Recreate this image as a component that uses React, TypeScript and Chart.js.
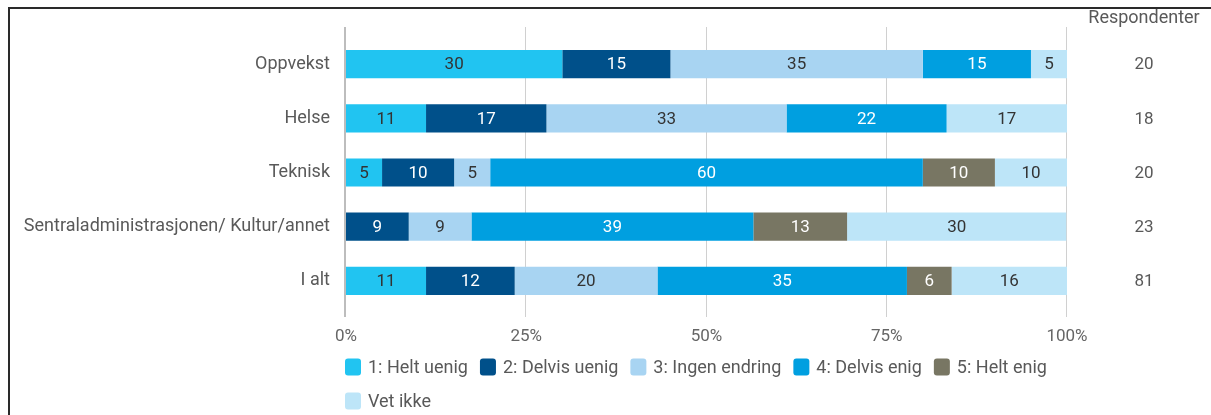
import React, { useEffect, useRef } from 'react';
import { Chart, registerables } from 'chart.js';

Chart.register(...registerables);

const categories = [
  'Oppvekst',
  'Helse',
  'Teknisk',
  'Sentraladministrasjonen/ Kultur/annet',
  'I alt',
];
const seriesNames = [
  '1: Helt uenig',
  '2: Delvis uenig',
  '3: Ingen endring',
  '4: Delvis enig',
  '5: Helt enig',
  'Vet ikke',
];
// Percent of respondents per category (labels shown rounded)
const heltUenig = [30, 11.1, 5, 0, 11.1];
const delvisUenig = [15, 16.7, 10, 8.7, 12.3];
const ingenEndring = [35, 33.3, 5, 8.7, 19.8];
const delvisEnig = [15, 22.2, 60, 39.1, 34.6];
const heltEnig = [0, 0, 10, 13.0, 6.2];
const vetIkke = [5, 16.7, 10, 30.4, 16.0];
const respondenter = [20, 18, 20, 23, 81];
const respondenterTitle = 'Respondenter';
const xTicks = [0, 25, 50, 75, 100];

const colors = ['#21C4F1', '#00508A', '#A8D4F2', '#009FE0', '#787663', '#BDE5F8'];
const labelColors = ['#333333', '#ffffff', '#333333', '#ffffff', '#ffffff', '#333333'];
const FONT = 'Roboto';
const TEXT_SIZE = 18;
const NUM_SIZE = 17;
const TEXT_GRAY = '#595959';

const gridPlugin = {
  id: 'extGrid',
  beforeDatasetsDraw(chart: any) {
    const { ctx, chartArea, scales } = chart;
    const x = scales.x;
    ctx.save();
    xTicks.forEach((v, i) => {
      const px = x.getPixelForValue(v);
      ctx.beginPath();
      if (i === 0) {
        ctx.lineWidth = 2;
        ctx.strokeStyle = '#bdbdbd';
        ctx.moveTo(Math.round(px) - 1, chartArea.top - 10);
        ctx.lineTo(Math.round(px) - 1, chartArea.bottom + 9);
      } else {
        ctx.lineWidth = 1;
        ctx.strokeStyle = '#d0d0d0';
        ctx.moveTo(Math.round(px) - 0.5, chartArea.top - 10);
        ctx.lineTo(Math.round(px) - 0.5, chartArea.bottom + 9);
      }
      ctx.stroke();
    });
    ctx.restore();
  },
};

const labelPlugin = {
  id: 'barLabels',
  afterDatasetsDraw(chart: any) {
    const ctx = chart.ctx;
    ctx.save();
    ctx.font = `${NUM_SIZE}px ${FONT}`;
    ctx.textAlign = 'center';
    ctx.textBaseline = 'middle';
    chart.data.datasets.forEach((ds: any, di: number) => {
      const meta = chart.getDatasetMeta(di);
      meta.data.forEach((el: any, j: number) => {
        const v = ds.data[j];
        if (!v) return;
        const p = el.getProps(['x', 'y', 'base'], true);
        ctx.fillStyle = labelColors[di];
        ctx.fillText(String(Math.round(v)), (p.x + p.base) / 2, p.y + 1);
      });
    });
    ctx.restore();
  },
};

const sidePlugin = {
  id: 'respondenter',
  afterDraw(chart: any) {
    const { ctx, chartArea, scales } = chart;
    const cx = chartArea.right + 77;
    ctx.save();
    ctx.textAlign = 'center';
    ctx.textBaseline = 'middle';
    ctx.fillStyle = TEXT_GRAY;
    ctx.font = `${TEXT_SIZE}px ${FONT}`;
    ctx.fillText(respondenterTitle, cx, chartArea.top - 19);
    ctx.font = `${NUM_SIZE}px ${FONT}`;
    respondenter.forEach((n, i) => {
      ctx.fillText(String(n), cx, scales.y.getPixelForValue(i) + 1);
    });
    ctx.restore();
  },
};

const legendPlugin = {
  id: 'customLegend',
  afterDraw(chart: any) {
    const { ctx, chartArea } = chart;
    const startX = chartArea.left - 1;
    let x = startX;
    let y = chartArea.bottom + 59;
    ctx.save();
    ctx.font = `${TEXT_SIZE}px ${FONT}`;
    ctx.textAlign = 'left';
    ctx.textBaseline = 'middle';
    seriesNames.forEach((name, i) => {
      const tw = ctx.measureText(name).width;
      const w = 16 + 7 + tw;
      if (x > startX && x + w > chartArea.right + 6) {
        x = startX;
        y += 34;
      }
      ctx.fillStyle = colors[i];
      ctx.beginPath();
      (ctx as any).roundRect(x, y - 8.5, 16, 17, 3);
      ctx.fill();
      ctx.fillStyle = TEXT_GRAY;
      ctx.fillText(name, x + 23, y + 1);
      x += w + 12;
    });
    ctx.restore();
  },
};

export default function App() {
  const ref = useRef<HTMLCanvasElement>(null);
  useEffect(() => {
    const canvas = ref.current;
    if (!canvas) return;
    Chart.defaults.font.family = FONT;
    const seriesValues = [heltUenig, delvisUenig, ingenEndring, delvisEnig, heltEnig, vetIkke];
    const chart = new Chart(canvas, {
      type: 'bar',
      data: {
        labels: categories,
        datasets: seriesValues.map((vals, i) => ({
          label: seriesNames[i],
          data: vals,
          backgroundColor: colors[i],
          borderWidth: 0,
          barPercentage: 0.52,
          categoryPercentage: 1,
        })),
      },
      options: {
        indexAxis: 'y',
        responsive: false,
        animation: false,
        layout: { padding: { left: 0, right: 144, top: 37, bottom: 67 } },
        scales: {
          x: {
            stacked: true,
            min: 0,
            max: 100,
            afterBuildTicks: (s: any) => {
              s.ticks = xTicks.map((v) => ({ value: v }));
            },
            afterFit: (s: any) => {
              s.height = 40;
            },
            ticks: {
              callback: (v: any) => `${v}%`,
              color: '#666666',
              font: { size: NUM_SIZE, family: FONT },
              padding: 19,
            },
            grid: { display: false, drawTicks: false },
            border: { display: false },
          },
          y: {
            stacked: true,
            afterFit: (s: any) => {
              s.width = 346;
            },
            ticks: {
              color: TEXT_GRAY,
              font: { size: TEXT_SIZE, family: FONT },
              padding: 16,
            },
            grid: { display: false, drawTicks: false },
            border: { display: false },
          },
        },
        plugins: {
          legend: { display: false },
          tooltip: { enabled: false },
        },
      },
      plugins: [gridPlugin, labelPlugin, sidePlugin, legendPlugin],
    });
    return () => chart.destroy();
  }, []);

  return (
    <div style={{ position: 'fixed', left: 0, top: 0, width: 1211, height: 415, background: '#ffffff', overflow: 'hidden' }}>
      <canvas
        ref={ref}
        width={1211}
        height={415}
        style={{ position: 'absolute', left: 0, top: 0, width: 1211, height: 415, display: 'block' }}
      />
      <div
        style={{
          position: 'absolute',
          left: 8,
          top: 7,
          right: 0,
          bottom: 0,
          borderLeft: '2px solid #2a2a2a',
          borderTop: '2px solid #2a2a2a',
          pointerEvents: 'none',
        }}
      />
    </div>
  );
}
